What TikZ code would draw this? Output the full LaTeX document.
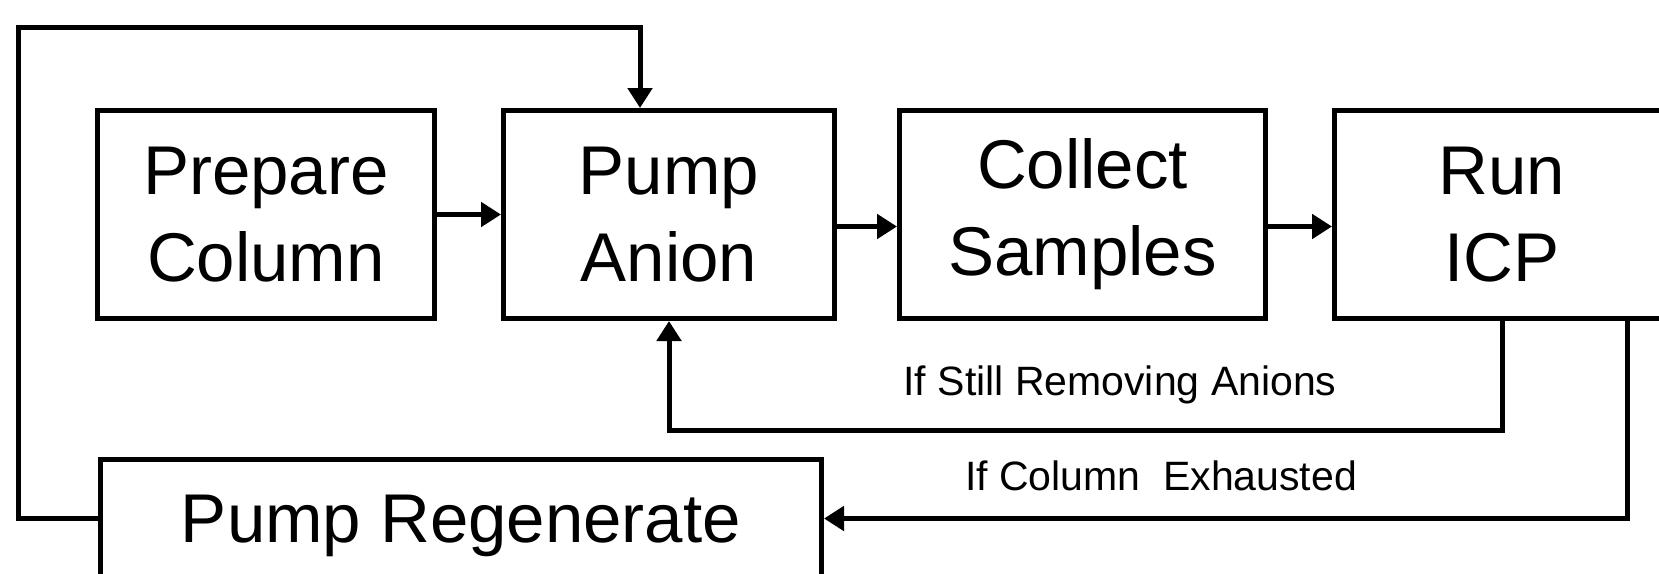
\documentclass[tikz,border=0pt]{standalone}
\usepackage{fontspec}
\setmainfont{Liberation Sans}
\usetikzlibrary{arrows.meta,positioning}

\begin{document}
\begin{tikzpicture}[
  x=0.5pt, y=-0.5pt,
  flow/.style={-{Triangle[length=10pt,width=12pt]}, line width=2.5pt},
  box/.style={draw, line width=2.5pt, minimum height=104pt, inner sep=0pt, align=center,
              font=\fontsize{34.5}{43.5}\selectfont},
  note/.style={font=\fontsize{20.5}{24}\selectfont, anchor=base, inner sep=0pt}
]
\useasboundingbox (0,0) rectangle (1659,573);
\node[box, minimum width=168.5pt] (prep) at (266,214.5) {Prepare\\Column};
\node[box, minimum width=165.5pt, right=32pt of prep] (anion) {Pump\\Anion};
\node[box, minimum width=183pt, right=30pt of anion] (collect) {Collect\\Samples};
\node[box, minimum width=167.5pt, right=32pt of collect] (run) {Run\\ICP};
\node[box, minimum width=360.5pt, minimum height=80pt, text height=25pt, text depth=22.5pt] (regen) at (461,539.5) {Pump Regenerate};
\coordinate (loopcorner) at (18,27);

\draw[flow] (prep) -- (anion);
\draw[flow] ([yshift=-6pt]anion.east) -- ([yshift=-6pt]collect.west);
\draw[flow] ([yshift=-6pt]collect.east) -- ([yshift=-6pt]run.west);
\draw[flow] (run.south) -- ++(0,-54.5pt) -| (anion.south);
\draw[flow] ([xshift=62.5pt]run.south) |- ([yshift=10.5pt]regen.east);
\draw[flow] ([yshift=10.5pt]regen.west) -| (loopcorner) -| ([xshift=-14.5pt]anion.north);

\node[note] (stilllabel) at (1120,395) {If Still Removing Anions};
\node[note] (exhaustlabel) at (1161,490) {If Column~ Exhausted};
\end{tikzpicture}
\end{document}
